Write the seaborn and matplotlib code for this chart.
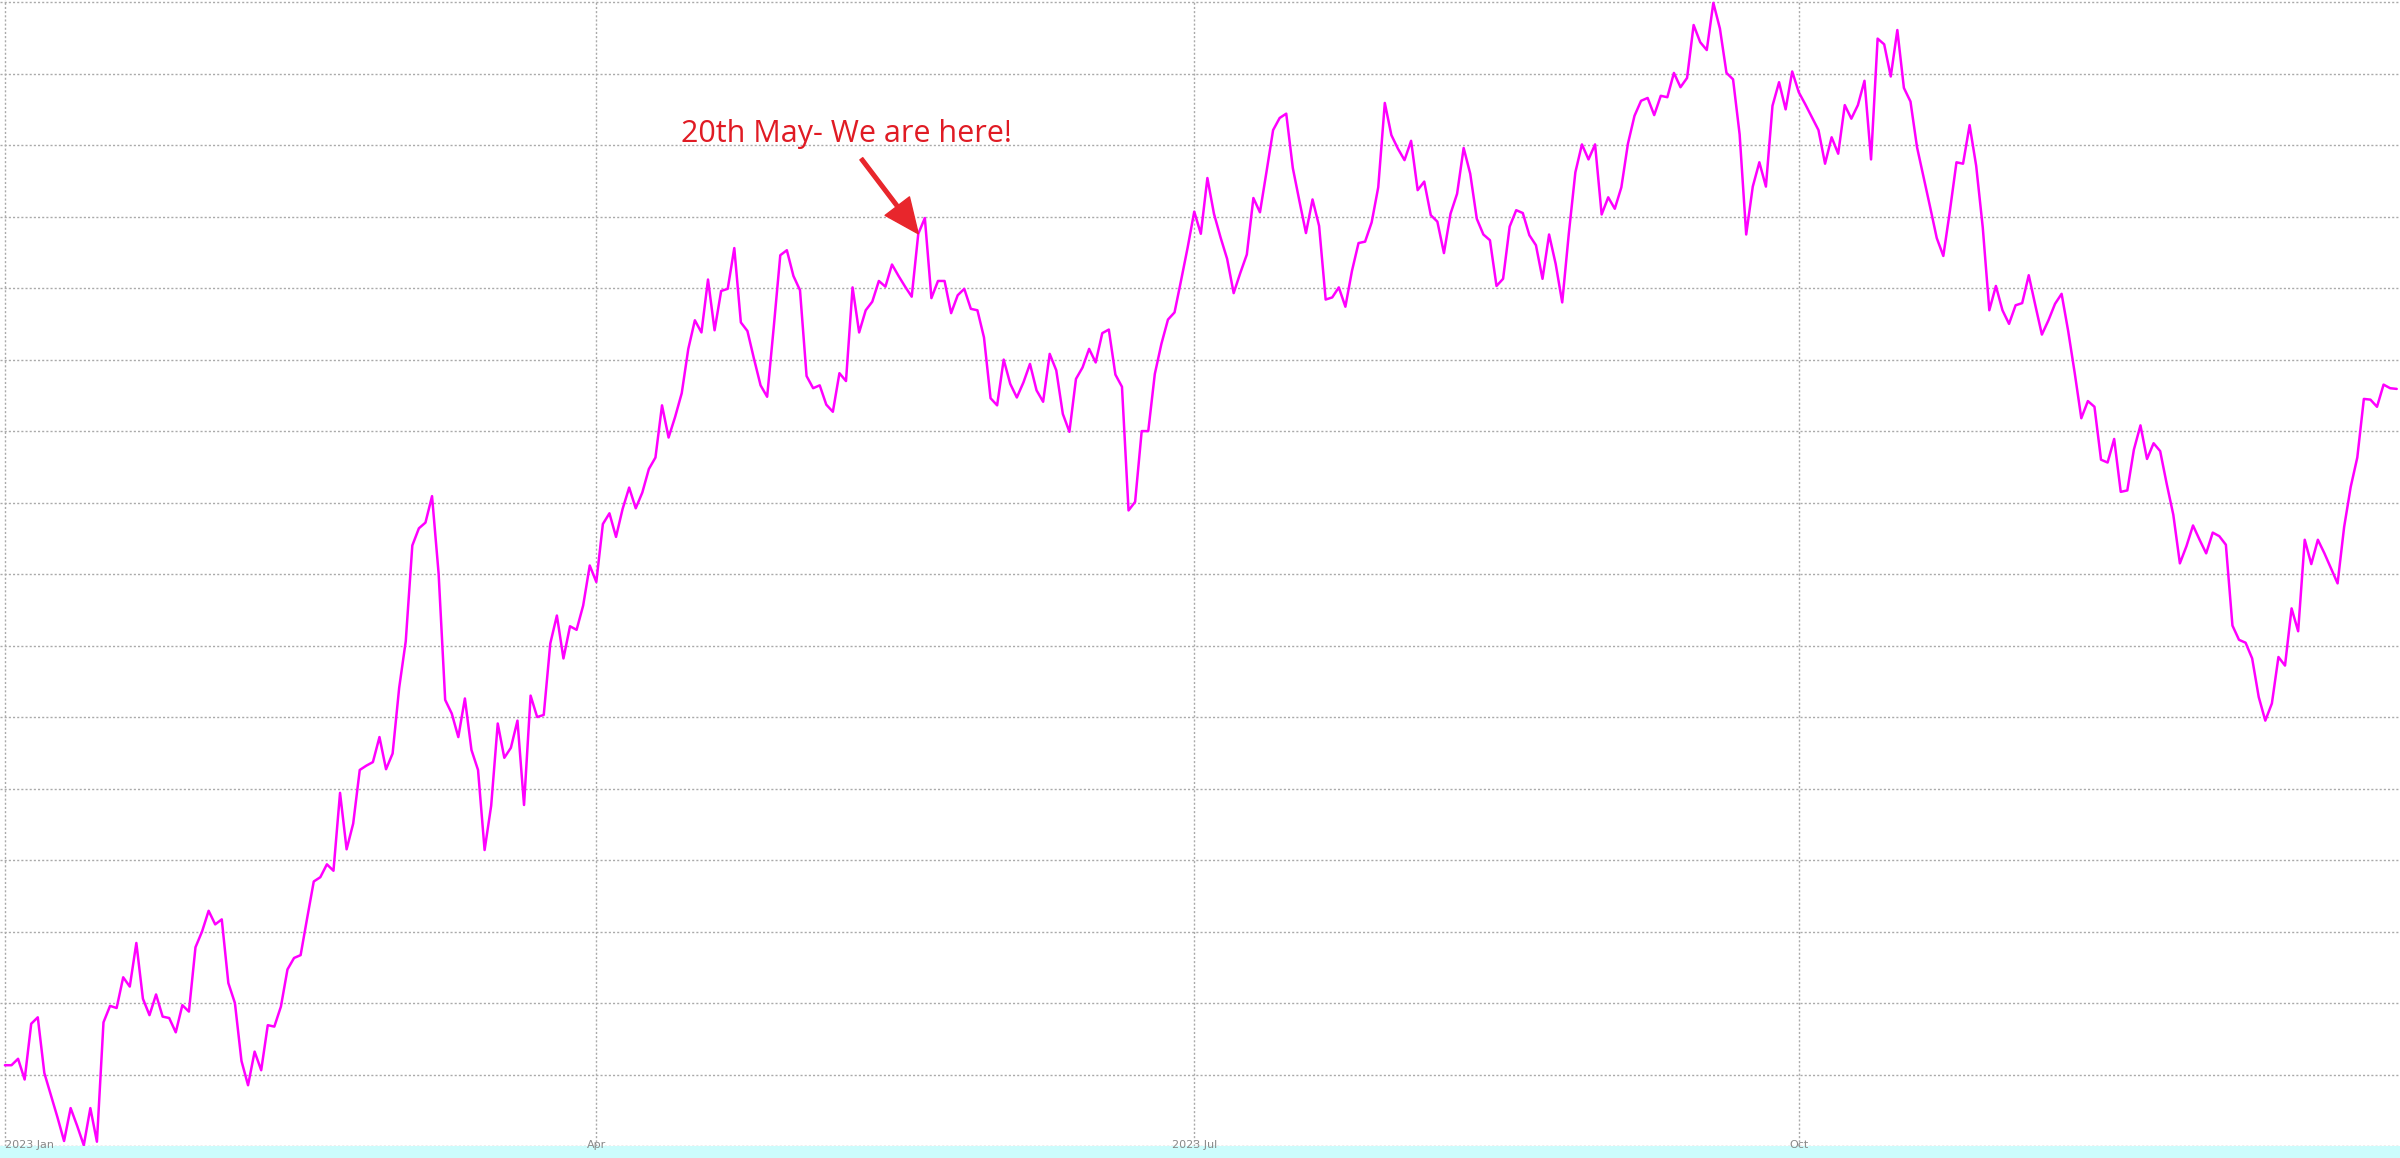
import pandas as pd
import matplotlib
matplotlib.use("Agg")
import matplotlib.pyplot as plt
import seaborn as sns

# daily values (one per day of 2023, unitless: 1 = one grid step)
jan_mar = [1.13, 1.13, 1.22, 0.93, 1.71, 1.80, 1.02, 0.71, 0.40, 0.07,
           0.53, 0.28, 0.01, 0.53, 0.06, 1.73, 1.96, 1.93, 2.36, 2.23,
           2.84, 2.06, 1.83, 2.12, 1.81, 1.79, 1.59, 1.97, 1.88, 2.78,
           3.00, 3.29, 3.10, 3.17, 2.28, 2.00, 1.19, 0.85, 1.32, 1.06,
           1.69, 1.67, 1.95, 2.47, 2.63, 2.67, 3.19, 3.70, 3.76, 3.94,
           3.85, 4.94, 4.15, 4.51, 5.26, 5.32, 5.37, 5.72, 5.27, 5.49,
           6.41, 7.06, 8.40, 8.64, 8.72, 9.09, 8.01, 6.24, 6.05, 5.72,
           6.26, 5.54, 5.26, 4.14, 4.76, 5.91, 5.43, 5.57, 5.95, 4.77,
           6.30, 6.00, 6.03, 7.03, 7.42, 6.82, 7.27, 7.22, 7.56, 8.12]
apr_jun = [7.89, 8.70, 8.85, 8.52, 8.91, 9.21, 8.92, 9.14, 9.47, 9.63,
           10.36, 9.91, 10.20, 10.53, 11.15, 11.55, 11.38, 12.12, 11.41, 11.96,
           11.99, 12.56, 11.52, 11.40, 11.01, 10.64, 10.48, 11.45, 12.46, 12.53,
           12.17, 11.97, 10.77, 10.60, 10.64, 10.37, 10.27, 10.81, 10.70, 12.01,
           11.38, 11.69, 11.81, 12.10, 12.02, 12.33, 12.17, 12.02, 11.88, 12.76,
           12.98, 11.86, 12.10, 12.10, 11.65, 11.90, 11.99, 11.71, 11.69, 11.31,
           10.46, 10.36, 11.00, 10.66, 10.47, 10.68, 10.94, 10.57, 10.41, 11.08,
           10.85, 10.24, 9.99, 10.73, 10.89, 11.15, 10.96, 11.37, 11.42, 10.79,
           10.62, 8.89, 9.01, 10.00, 10.00, 10.80, 11.22, 11.56, 11.66, 12.11,
           12.57]
jul_sep = [13.07, 12.76, 13.54, 13.04, 12.71, 12.41, 11.93, 12.21, 12.47, 13.26,
           13.06, 13.63, 14.21, 14.38, 14.44, 13.68, 13.22, 12.77, 13.24, 12.87,
           11.84, 11.87, 12.01, 11.74, 12.24, 12.63, 12.65, 12.92, 13.41, 14.59,
           14.14, 13.95, 13.79, 14.06, 13.37, 13.49, 13.02, 12.93, 12.49, 13.04,
           13.32, 13.96, 13.60, 12.97, 12.75, 12.67, 12.03, 12.13, 12.86, 13.09,
           13.05, 12.74, 12.60, 12.13, 12.75, 12.34, 11.80, 12.76, 13.62, 14.01,
           13.80, 14.01, 13.03, 13.27, 13.11, 13.41, 14.02, 14.41, 14.62, 14.66,
           14.42, 14.69, 14.67, 15.01, 14.81, 14.94, 15.68, 15.44, 15.33, 15.99,
           15.63, 15.01, 14.92, 14.15, 12.75, 13.42, 13.76, 13.42, 14.55, 14.88,
           14.50, 15.03]
oct_dec = [14.74, 14.57, 14.39, 14.21, 13.74, 14.11, 13.88, 14.56, 14.37, 14.56,
           14.90, 13.80, 15.49, 15.41, 14.96, 15.61, 14.80, 14.61, 13.97, 13.55,
           13.13, 12.70, 12.45, 13.08, 13.76, 13.74, 14.28, 13.71, 12.85, 11.69,
           12.03, 11.69, 11.50, 11.76, 11.79, 12.18, 11.76, 11.35, 11.55, 11.78,
           11.92, 11.40, 10.81, 10.18, 10.42, 10.34, 9.60, 9.56, 9.89, 9.15,
           9.17, 9.74, 10.08, 9.61, 9.83, 9.72, 9.26, 8.83, 8.15, 8.39,
           8.68, 8.48, 8.29, 8.58, 8.53, 8.41, 7.28, 7.08, 7.04, 6.82,
           6.28, 5.95, 6.19, 6.84, 6.72, 7.52, 7.20, 8.48, 8.14, 8.48,
           8.29, 8.08, 7.87, 8.66, 9.22, 9.63, 10.45, 10.44, 10.34, 10.65,
           10.60, 10.59]

tick_dates = ["2023-01-01", "2023-04-01", "2023-07-01", "2023-10-01"]
tick_labels = ["2023 Jan", "Apr", "2023 Jul", "Oct"]

note_text = "20th May- We are here!"
note_date = "2023-05-20"

values = jan_mar + apr_jun + jul_sep + oct_dec
dates = pd.date_range("2023-01-01", periods=len(values), freq="D")
df = pd.DataFrame({"date": dates, "value": values})

sns.set_style("white")
fig = plt.figure(figsize=(24, 11.58), dpi=100, facecolor="#ccfcfc")
ax = fig.add_axes([0, 12 / 1158, 1, 1146 / 1158])

sns.lineplot(data=df, x="date", y="value", color="#ff00ff", linewidth=1.8, ax=ax)

ax.set_xlim(dates[0] - pd.Timedelta(hours=18), dates[-1] + pd.Timedelta(hours=12))
ax.set_ylim(0, 16.03)
ax.set_yticks(range(0, 17))
ax.set_xticks(pd.to_datetime(tick_dates))
ax.set_xticklabels(tick_labels)
ax.xaxis.get_majorticklabels()[0].set_horizontalalignment("left")
ax.tick_params(axis="x", length=0, pad=-4, labelsize=8, labelcolor="#888888")
ax.tick_params(axis="y", length=0, labelleft=False)
for lbl in ax.get_xticklabels():
    lbl.set_family(["Liberation Sans Narrow", "DejaVu Sans"])
ax.set_xlabel("")
ax.set_ylabel("")
ax.grid(True, color="#aaaaaa", linestyle=(0, (1.5, 1.5)), linewidth=1.0)
for s in ax.spines.values():
    s.set_visible(False)

# annotation anchored on the 20th May point
nd = pd.Timestamp(note_date)
ny = df.loc[df["date"] == nd, "value"].iloc[0]
ax.annotate("", xy=(nd, ny), xytext=(-41, 54), textcoords="offset points",
            arrowprops=dict(arrowstyle="simple,head_length=1.25,head_width=1.1,tail_width=0.13",
                            color="#e8262c", mutation_scale=20, shrinkA=0, shrinkB=0))
ax.annotate(note_text, xy=(nd, ny), xytext=(-52, 72), textcoords="offset points",
            ha="center", va="center", fontsize=22, color="#e01b24",
            family=["Open Sans", "DejaVu Sans"])

fig.savefig("out.png", dpi=100, facecolor=fig.get_facecolor())
